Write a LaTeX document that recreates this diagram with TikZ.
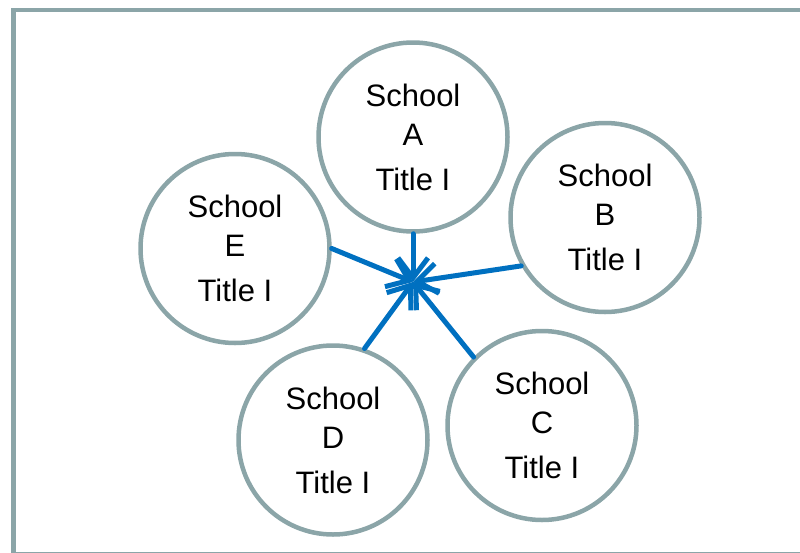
\documentclass[tikz,border=0pt]{standalone}
\usepackage{fontspec}
\setmainfont{Liberation Sans}
\usepackage{xcolor}
\usetikzlibrary{arrows.meta}
\definecolor{ringgray}{HTML}{8BA5A8}
\definecolor{linkblue}{HTML}{0070C0}
\tikzset{
  school/.style={circle,draw=ringgray,line width=4.5pt,minimum size=189pt,inner sep=0pt,
    align=center,font=\fontsize{31}{39}\selectfont},
  link/.style={draw=linkblue,line width=5pt,line cap=round,
    -{Straight Barb[length=20pt,width=30pt]}}
}

\begin{document}
\begin{tikzpicture}[x=1pt,y=-1pt]
\useasboundingbox (0,0) rectangle (800,552);
\clip (0,0) rectangle (800,552);
\draw[ringgray,line width=4.5pt] (13.5,10) rectangle (806,554);

\node[school] (schoolA) at (413,137) {School\\A\\[6pt]Title I};
\node[school] (schoolB) at (605,217.5) {School\\B\\[6pt]Title I};
\node[school] (schoolC) at (542,425.5) {School\\C\\[6pt]Title I};
\node[school] (schoolD) at (333,440) {School\\D\\[6pt]Title I};
\node[school] (schoolE) at (235,248.5) {School\\E\\[6pt]Title I};

\coordinate (hub) at (413,282);
\draw[link] (schoolA.south) -- (hub);
\draw[link] (schoolB.210) -- (hub);
\draw[link] (schoolC.135) -- (hub);
\draw[link] (schoolD.71) -- (hub);
\draw[link] (schoolE.east) -- (hub);
\end{tikzpicture}
\end{document}
